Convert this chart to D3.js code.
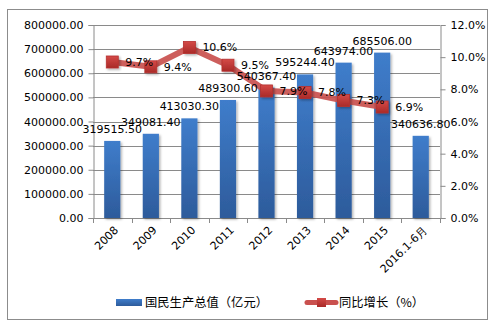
<!DOCTYPE html>
<html><head><meta charset="utf-8">
<script src="https://cdn.jsdelivr.net/npm/d3@7"></script>
<style>body{margin:0;background:#fff}svg{display:block}</style>
</head><body>
<svg id="c" width="495" height="328"></svg>
<script>
const categories = ["2008","2009","2010","2011","2012","2013","2014","2015","2016.1-6月"];
const gdpValues = [319515.5,349081.4,413030.3,489300.6,540367.4,595244.4,643974.0,685506.0,340636.8];
const growthCategories = ["2008","2009","2010","2011","2012","2013","2014","2015"];
const growthValues = [9.7,9.4,10.6,9.5,7.9,7.8,7.3,6.9];
const leftTicks = [0,100000,200000,300000,400000,500000,600000,700000,800000];
const rightTicks = [0,2,4,6,8,10,12];
const seriesNames = ["国民生产总值（亿元）","同比增长（%）"];

const svg = d3.select("#c");
const font = "'DejaVu Sans', sans-serif";
const L = 93, R = 440, T = 25, B = 218;

const defs = svg.append("defs");
const g1 = defs.append("linearGradient").attr("id","bg").attr("x1",0).attr("y1",0).attr("x2",0).attr("y2",1);
g1.append("stop").attr("offset","0%").attr("stop-color","#3f7dcb");
g1.append("stop").attr("offset","100%").attr("stop-color","#2d5b9b");
const g2 = defs.append("linearGradient").attr("id","mg").attr("x1",0).attr("y1",0).attr("x2",0).attr("y2",1);
g2.append("stop").attr("offset","0%").attr("stop-color","#d44a47");
g2.append("stop").attr("offset","100%").attr("stop-color","#a92a28");
const f = defs.append("filter").attr("id","sh").attr("x","-30%").attr("y","-30%").attr("width","160%").attr("height","160%");
f.append("feDropShadow").attr("dx",1.5).attr("dy",1.5).attr("stdDeviation",1.2).attr("flood-color","#000").attr("flood-opacity",0.3);

svg.append("rect").attr("x",7.5).attr("y",9.5).attr("width",480).attr("height",310)
  .attr("fill","#fff").attr("stroke","#8c8c8c").attr("stroke-width",1);

const x = d3.scaleBand().domain(categories).range([L,R]).paddingInner(0.58).paddingOuter(0.29);
const xb = d3.scaleBand().domain(categories).range([L,R]);
const yL = d3.scaleLinear().domain([0,800000]).range([B,T]);
const yR = d3.scaleLinear().domain([0,12]).range([B,T]);

// gridlines
svg.append("g").selectAll("line").data(leftTicks).join("line")
  .attr("x1",L).attr("x2",R).attr("y1",d=>Math.round(yL(d))+0.5).attr("y2",d=>Math.round(yL(d))+0.5)
  .attr("stroke","#8a8a8a").attr("stroke-width",1);

// left axis
const axL = svg.append("g").attr("transform",`translate(${L+0.5},0)`)
  .call(d3.axisLeft(yL).tickValues(leftTicks).tickFormat(d=>d3.format(".2f")(d)).tickSize(5).tickPadding(5));
// right axis
const axR = svg.append("g").attr("transform",`translate(${R+0.5},0)`)
  .call(d3.axisRight(yR).tickValues(rightTicks).tickFormat(d=>d.toFixed(1)+"%").tickSize(5).tickPadding(5));
[axL,axR].forEach(a=>{
  a.select(".domain").attr("stroke","#8a8a8a");
  a.selectAll(".tick line").attr("stroke","#8a8a8a");
  a.selectAll("text").attr("font-family",font).attr("font-size",11).attr("fill","#000");
});

// bottom axis
svg.append("line").attr("x1",L).attr("x2",R).attr("y1",B+0.5).attr("y2",B+0.5).attr("stroke","#8a8a8a");
const bounds = categories.map(c=>xb(c)).concat([R]);
svg.append("g").selectAll("line").data(bounds).join("line")
  .attr("x1",d=>Math.round(d)+0.5).attr("x2",d=>Math.round(d)+0.5).attr("y1",B).attr("y2",B+5)
  .attr("stroke","#8a8a8a");

// bars
svg.append("g").selectAll("rect").data(gdpValues).join("rect")
  .attr("x",(d,i)=>x(categories[i])).attr("width",x.bandwidth())
  .attr("y",d=>yL(d)).attr("height",d=>B-yL(d))
  .attr("fill","url(#bg)").attr("filter","url(#sh)");

// x labels
svg.append("g").selectAll("text").data(categories).join("text")
  .attr("transform",d=>`translate(${xb(d)+xb.bandwidth()/2+4},${B+10}) rotate(-45)`)
  .attr("text-anchor","end").attr("dy","0.35em")
  .attr("font-family",font).attr("font-size",11).attr("fill","#000").text(d=>d);

// line
const lx = d=>xb(d)+xb.bandwidth()/2;
const line = d3.line().x((d,i)=>lx(growthCategories[i])).y(d=>yR(d));
svg.append("path").datum(growthValues).attr("d",line).attr("fill","none")
  .attr("stroke","#c9504e").attr("stroke-width",6).attr("stroke-linejoin","round").attr("opacity",0.92);
svg.append("g").selectAll("rect").data(growthValues).join("rect")
  .attr("x",(d,i)=>lx(growthCategories[i])-6).attr("y",d=>yR(d)-6)
  .attr("width",12).attr("height",12).attr("fill","url(#mg)").attr("stroke","#b5302e").attr("stroke-width",0.8)
  .attr("filter","url(#sh)");

// bar labels
svg.append("g").selectAll("text").data(gdpValues).join("text")
  .attr("x",(d,i)=>x(categories[i])+x.bandwidth()/2).attr("y",d=>yL(d)-8)
  .attr("text-anchor","middle").attr("font-family",font).attr("font-size",11).attr("fill","#000")
  .text(d=>d3.format(".2f")(d));

// line labels
svg.append("g").selectAll("text").data(growthValues).join("text")
  .attr("x",(d,i)=>lx(growthCategories[i])+13).attr("y",d=>yR(d)).attr("dy","0.35em")
  .attr("font-family",font).attr("font-size",11).attr("fill","#000")
  .text(d=>d.toFixed(1)+"%");

// legend
const cjk = "'Noto Sans CJK SC', sans-serif";
svg.append("rect").attr("x",116).attr("y",299).attr("width",26).attr("height",7).attr("fill","url(#bg)");
svg.append("text").attr("x",145).attr("y",302.5).attr("dy","0.35em").attr("font-family",cjk).attr("font-size",12.3).attr("fill","#000").text(seriesNames[0]);
svg.append("line").attr("x1",307).attr("x2",336).attr("y1",302.5).attr("y2",302.5).attr("stroke","#c9504e").attr("stroke-width",5).attr("stroke-linecap","round");
svg.append("rect").attr("x",317).attr("y",298).attr("width",9).attr("height",9).attr("fill","url(#mg)");
svg.append("text").attr("x",339).attr("y",302.5).attr("dy","0.35em").attr("font-family",cjk).attr("font-size",12.3).attr("fill","#000").text(seriesNames[1]);
</script>
</body></html>
